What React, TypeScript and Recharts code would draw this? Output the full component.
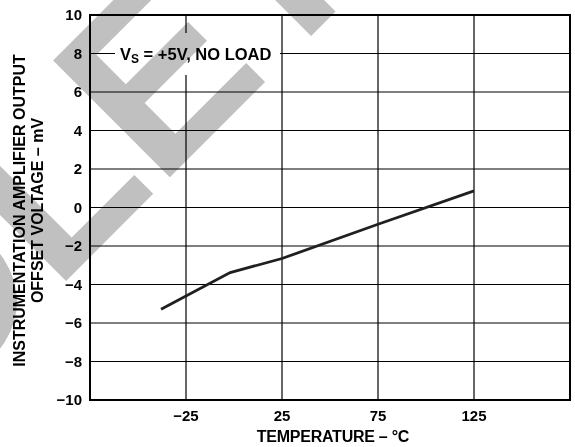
import React from 'react';
import { LineChart, Line, XAxis, YAxis, CartesianGrid, ReferenceArea } from 'recharts';

// Offset voltage vs. temperature, Vs = +5 V, no load
const temperatures = [-38, -2, 25, 75, 125];
const offsetMv = [-5.28, -3.38, -2.65, -0.87, 0.86];

const xTicks = [-25, 25, 75, 125];
const yTicks = [-10, -8, -6, -4, -2, 0, 2, 4, 6, 8, 10];

const data = temperatures.map((t, i) => ({ t, v: offsetMv[i] }));

const FONT = '"Liberation Sans", Arial, Helvetica, sans-serif';
const fmt = (v: number) => String(v).replace('-', '\u2212');

const XTick = (props: any) => {
  const { x, y, payload } = props;
  return (
    <text
      x={x}
      y={y}
      dy="0.71em"
      textAnchor="middle"
      fontSize={15}
      fontWeight={700}
      fill="#000"
      fontFamily={FONT}
    >
      {fmt(payload.value)}
    </text>
  );
};

const YTick = (props: any) => {
  const { x, y, payload } = props;
  return (
    <text
      x={x}
      y={y}
      dy="0.355em"
      textAnchor="end"
      fontSize={15}
      fontWeight={700}
      fill="#000"
      fontFamily={FONT}
    >
      {fmt(payload.value)}
    </text>
  );
};

export default function App() {
  return (
    <div
      style={{
        position: 'fixed',
        left: 0,
        top: 0,
        width: 575,
        height: 447,
        background: '#fff',
        isolation: 'isolate',
        fontFamily: FONT,
      }}
    >
      <LineChart
        width={575}
        height={447}
        data={data}
        margin={{ top: 15, right: 5, left: 0, bottom: 0 }}
      >
        <CartesianGrid stroke="#000" strokeWidth={1.2} />
        <XAxis
          dataKey="t"
          type="number"
          domain={[-75, 175]}
          ticks={xTicks}
          axisLine={false}
          tickLine={false}
          tickMargin={4}
          height={47}
          tick={<XTick />}
          interval={0}
        />
        <YAxis
          type="number"
          domain={[-10, 10]}
          ticks={yTicks}
          axisLine={false}
          tickLine={false}
          tickMargin={2}
          width={90}
          tick={<YTick />}
          interval={0}
        />
        <ReferenceArea
          x1={-75}
          x2={175}
          y1={-10}
          y2={10}
          fill="none"
          stroke="#000"
          strokeWidth={2}
        />
        <Line
          type="linear"
          dataKey="v"
          stroke="#231f20"
          strokeWidth={2.8}
          dot={false}
          isAnimationActive={false}
        />
      </LineChart>

      {/* annotation box and axis titles */}
      <svg
        width={575}
        height={447}
        style={{ position: 'absolute', left: 0, top: 0, pointerEvents: 'none' }}
      >
        <rect x={115} y={33} width={165} height={42} fill="#fff" />
        <text x={120} y={60} fontSize={16.5} fontWeight={700} fill="#000" fontFamily={FONT}>
          <tspan>V</tspan>
          <tspan dy={3} fontSize={12}>S</tspan>
          <tspan dy={-3}> = +5V, NO LOAD</tspan>
        </text>
        <text
          x={333}
          y={441.5}
          textAnchor="middle"
          fontSize={16}
          fontWeight={700}
          letterSpacing={-0.25}
          fill="#000"
          fontFamily={FONT}
        >
          TEMPERATURE – °C
        </text>
        <text
          x={19.5}
          y={210.5}
          dy="0.36em"
          textAnchor="middle"
          transform="rotate(-90 19.5 210.5)"
          fontSize={16}
          fontWeight={700}
          fill="#000"
          fontFamily={FONT}
        >
          INSTRUMENTATION AMPLIFIER OUTPUT
        </text>
        <text
          x={37.5}
          y={210.5}
          dy="0.36em"
          textAnchor="middle"
          transform="rotate(-90 37.5 210.5)"
          fontSize={16}
          fontWeight={700}
          fill="#000"
          fontFamily={FONT}
        >
          OFFSET VOLTAGE – mV
        </text>
      </svg>

      {/* diagonal status stamp */}
      <svg
        width={575}
        height={447}
        style={{
          position: 'absolute',
          left: 0,
          top: 0,
          pointerEvents: 'none',
          mixBlendMode: 'multiply',
        }}
      >
        <text
          x={-445}
          y={792}
          transform="rotate(-45 -445 792)"
          fontSize={240}
          fontWeight={700}
          fill="#c0c0c0"
          fontFamily={FONT}
        >
          OBSOLETE
        </text>
      </svg>
    </div>
  );
}
